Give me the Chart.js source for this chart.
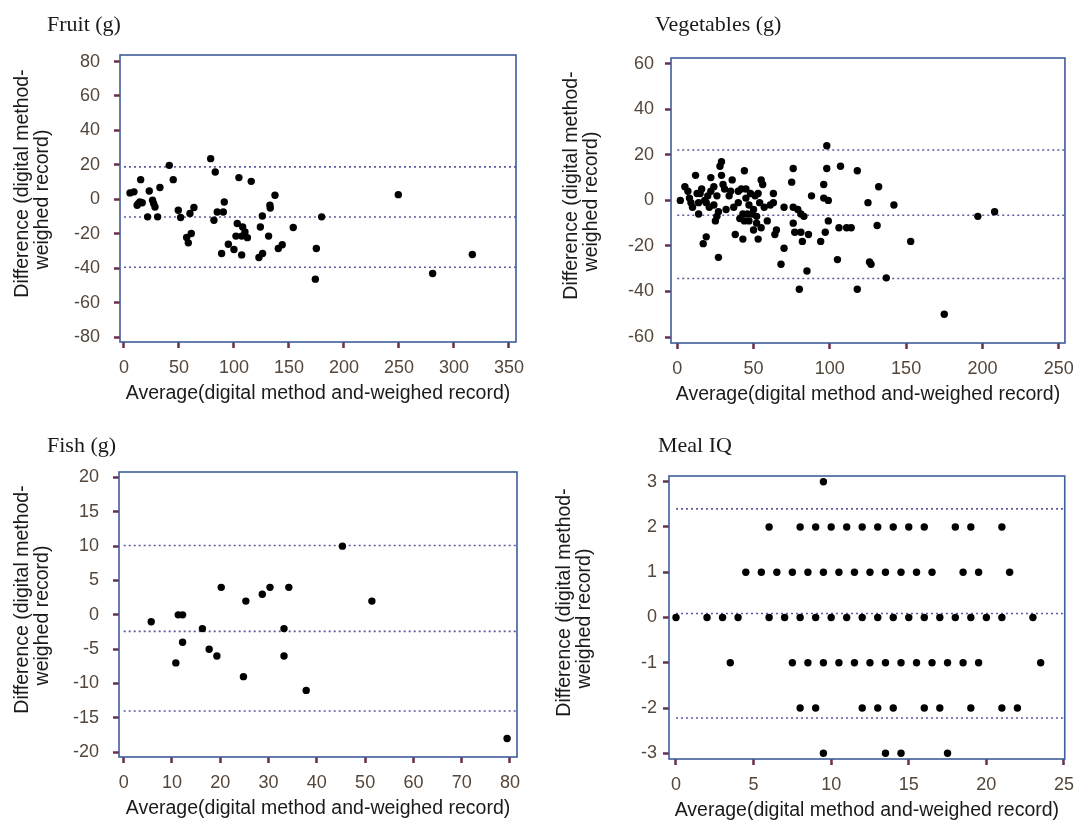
<!DOCTYPE html>
<html><head><meta charset="utf-8">
<script src="https://cdn.jsdelivr.net/npm/chart.js@4.4.1/dist/chart.umd.min.js"></script>
<style>
html,body{margin:0;padding:0;background:#fff;width:1083px;height:820px;overflow:hidden}
canvas{position:absolute;left:0;top:0}
</style></head><body>
<canvas id="c1" width="1083" height="820"></canvas>
<canvas id="c2" width="1083" height="820"></canvas>
<canvas id="c3" width="1083" height="820"></canvas>
<canvas id="c4" width="1083" height="820"></canvas>
<script>
// ---------- DATA ----------
const panelTitles = ["Fruit (g)", "Vegetables (g)", "Fish (g)", "Meal IQ"];
const xAxisTitle = "Average(digital method and-weighed record)";
const yAxisTitle = ["Difference (digital method-", "weighed record)"];

const fruitXTicks = [0, 50, 100, 150, 200, 250, 300, 350];
const fruitYTicks = [80, 60, 40, 20, 0, -20, -40, -60, -80];
const fruitLimits = [18.8, -10.3, -39.5];
const fruitAvg  = [5.5, 9.1, 15.2, 14.5, 13, 16.6, 21.5, 23, 26, 28.2, 30.6, 32.7, 41.2, 44.8, 49.4, 51.5, 57, 58.5, 61.2, 60, 63.6, 78.8, 83, 81.8, 84.8, 90.3, 91.2, 88.8, 94.9, 100, 107, 101.8, 103, 107.9, 110, 107, 112.2, 104.5, 115.7, 122.7, 126, 124, 125.8, 131.5, 132.7, 133, 137.3, 140.3, 143.9, 153.9, 174.9, 174, 179.7, 249.4, 280.6, 316.7, 12, 27];
const fruitDiff = [3.7, 4.3, 11.4, -1.6, -2.5, -2, -10.2, 4.8, -0.6, -4.5, -10.2, 6.8, 19.7, 11.4, -6.4, -10.6, -22.2, -25.3, -19.9, -8.3, -4.8, 23.6, 15.8, -12.2, -7.4, -7.4, -1.6, -31.5, -26.1, -29.2, -32.3, -21.4, -14.1, -16.1, -19, -21.4, -22.3, 12.6, 10.4, -33.8, -31.5, -16.1, -9.7, -21.4, -3.5, -5.1, 2.3, -28.6, -26.4, -16.4, -28.6, -46.4, -10.2, 2.7, -43.1, -32.1, -3.5, -2.5];

const vegXTicks = [0, 50, 100, 150, 200, 250];
const vegYTicks = [60, 40, 20, 0, -20, -40, -60];
const vegLimits = [22.1, -6.5, -34.3];
const vegAvg  = [2, 5, 7, 8, 9, 10, 12, 13, 14, 14, 16, 17, 19, 19, 20, 21, 22, 24, 25, 26, 27, 27, 28, 29, 29, 30, 31, 34, 36, 38, 40, 43, 44, 42, 45, 43, 44, 45, 47, 49, 51, 50, 52, 53, 54, 53, 55, 56, 55, 59, 61, 63, 63, 64, 65, 68, 70, 70, 75, 76, 76, 76, 77, 79, 80, 81, 81, 82, 83, 85, 86, 88, 94, 96, 97, 98, 98, 96, 99, 99, 105, 106, 107, 111, 114, 118, 118, 125, 126, 127, 131, 132, 137, 142, 153, 175, 197, 208, 15, 18, 22, 24, 26, 32, 35, 37, 40, 41, 46, 47, 48, 50, 52, 57];
const vegDiff = [0, 6, 4, 1, -1, -3, 11, 3, -1, -6, 5, -19, -16, -1, 2, -3, 10, 6, -9, -7, -5, -25, 15, 17, 11, 7, 5, 2, 9, -15, -1, -17, 13, 5, 5, -6, -9, 1, -2, -6, 2, -13, -7, 3, -1, -17, 9, 7, -12, -9, -2, -1, 3, -15, -13, -28, -3, -21, 8, 14, -3, -10, -14, -4, -39, -6, -14, -18, -7, -31, -15, 2, -18, 7, -14, 24, 14, 1, 0, -9, -26, -12, 15, -12, -12, -39, 13, -1, -27, -28, -11, 6, -34, -2, -18, -50, -7, -5, 3, 0, 4, -2, 2, -4, 4, -3, 4, -8, -6, -9, 3, -4, -10, -3];

const fishXTicks = [0, 10, 20, 30, 40, 50, 60, 70, 80];
const fishYTicks = [20, 15, 10, 5, 0, -5, -10, -15, -20];
const fishLimits = [10.1, -2.4, -14.0];
const fishAvg  = [5.7, 10.8, 11.3, 12.2, 12.2, 16.3, 17.7, 19.3, 20.2, 24.8, 25.3, 28.7, 30.3, 33.2, 33.2, 34.2, 37.8, 45.3, 51.4, 79.4];
const fishDiff = [-1, -7, 0, 0, -4, -2, -5, -6, 4, -9, 2, 3, 4, -2, -6, 4, -11, 10, 2, -18];

const mealXTicks = [0, 5, 10, 15, 20, 25];
const mealYTicks = [3, 2, 1, 0, -1, -2, -3];
const mealLimits = [2.40, 0.09, -2.22];
const mealAvg  = [9.5,
  6, 8, 9, 10, 11, 12, 13, 14, 15, 16, 18, 19, 21,
  4.5, 5.5, 6.5, 7.5, 8.5, 9.5, 10.5, 11.5, 12.5, 13.5, 14.5, 15.5, 16.5, 18.5, 19.5, 21.5,
  0, 2, 3, 4, 6, 7, 8, 9, 10, 11, 12, 13, 14, 15, 16, 17, 18, 19, 20, 21, 23,
  3.5, 7.5, 8.5, 9.5, 10.5, 11.5, 12.5, 13.5, 14.5, 15.5, 16.5, 17.5, 18.5, 19.5, 23.5,
  8, 9, 12, 13, 14, 16, 17, 19, 21, 22,
  9.5, 13.5, 14.5, 17.5];
const mealDiff = [3,
  2, 2, 2, 2, 2, 2, 2, 2, 2, 2, 2, 2, 2,
  1, 1, 1, 1, 1, 1, 1, 1, 1, 1, 1, 1, 1, 1, 1, 1,
  0, 0, 0, 0, 0, 0, 0, 0, 0, 0, 0, 0, 0, 0, 0, 0, 0, 0, 0, 0, 0,
  -1, -1, -1, -1, -1, -1, -1, -1, -1, -1, -1, -1, -1, -1, -1,
  -2, -2, -2, -2, -2, -2, -2, -2, -2, -2,
  -3, -3, -3, -3];

// ---------- LAYOUT / STYLE ----------
const W = 1083, H = 820, YW = 60, XH = 40;
const TICK_COLOR = '#6b2d4e', LABEL_COLOR = '#54463a', FRAME_COLOR = '#3f5c9c', REF_COLOR = '#5a5a9e';
const SANS = '"Liberation Sans", Arial, sans-serif';
const SERIF = '"Liberation Serif", "Times New Roman", serif';

function makePanel(id, p) {
  const framePlugin = {
    id: 'frame' + id,
    afterDraw(chart) {
      const ctx = chart.ctx, a = chart.chartArea;
      ctx.save();
      ctx.strokeStyle = FRAME_COLOR; ctx.lineWidth = 1.6;
      ctx.strokeRect(a.left, a.top, a.right - a.left, a.bottom - a.top);
      ctx.fillStyle = '#1a1a1a';
      ctx.font = '22px ' + SERIF;
      ctx.textAlign = 'left'; ctx.textBaseline = 'alphabetic';
      ctx.fillText(p.title, p.titleX, p.titleY);
      ctx.font = '19.5px ' + SANS;
      ctx.textAlign = 'center'; ctx.textBaseline = 'middle';
      ctx.fillText(xAxisTitle, (a.left + a.right) / 2, a.bottom + 52);
      const cy = (a.top + a.bottom) / 2;
      ctx.translate(p.yTitleX, cy + p.yTitleDy);
      ctx.rotate(-Math.PI / 2);
      ctx.fillText(yAxisTitle[0], 0, 0);
      ctx.fillText(yAxisTitle[1], p.yTitleDy2, 20);
      ctx.restore();
    }
  };
  const refSets = p.limits.map(v => ({
    type: 'line', data: [{x: 0, y: v}, {x: p.xMax, y: v}],
    borderColor: REF_COLOR, borderWidth: 1.6, borderDash: [2, 3],
    pointRadius: 0, fill: false, order: 2
  }));
  new Chart(document.getElementById(id), {
    type: 'scatter',
    data: { datasets: [...refSets, {
      data: p.xs.map((x, i) => ({x: x, y: p.ys[i]})),
      backgroundColor: '#000', borderColor: '#000', borderWidth: 0,
      pointRadius: 3.7, order: 1
    }]},
    options: {
      responsive: false, animation: false, events: [],
      layout: { autoPadding: false, padding: { left: p.box.l - YW, top: p.box.t, right: W - p.box.r, bottom: H - p.box.b - XH } },
      plugins: { legend: { display: false }, tooltip: { enabled: false } },
      scales: {
        x: {
          type: 'linear', min: p.xMin, max: p.xMax,
          afterBuildTicks: a => { a.ticks = p.xTicks.map(v => ({value: v})); },
          afterFit: s => { s.height = XH; },
          grid: { drawOnChartArea: false, tickLength: 6, tickColor: TICK_COLOR, tickWidth: 2.5 },
          border: { display: false },
          ticks: { autoSkip: false, maxRotation: 0, padding: 9, color: LABEL_COLOR, font: { family: SANS, size: 18 } }
        },
        y: {
          type: 'linear', min: p.yMin, max: p.yMax,
          afterBuildTicks: a => { a.ticks = p.yTicks.map(v => ({value: v})); },
          afterFit: s => { s.width = YW; },
          grid: { drawOnChartArea: false, tickLength: 6, tickColor: TICK_COLOR, tickWidth: 2.5 },
          border: { display: false },
          ticks: { autoSkip: false, padding: p.yPad, color: LABEL_COLOR, font: { family: SANS, size: 18 } }
        }
      }
    },
    plugins: [framePlugin]
  });
}

makePanel('c1', { title: panelTitles[0], titleX: 47, titleY: 31,
  box: {l: 120, t: 55, r: 516, b: 342}, xMin: -3.6, xMax: 356.4, yMin: -82.9, yMax: 83.8,
  xTicks: fruitXTicks, yTicks: fruitYTicks, limits: fruitLimits, xs: fruitAvg, ys: fruitDiff,
  yPad: 14, yTitleX: 23, yTitleDy: -15, yTitleDy2: -16 });
makePanel('c2', { title: panelTitles[1], titleX: 655, titleY: 31,
  box: {l: 671, t: 58, r: 1065, b: 343}, xMin: -4.1, xMax: 254.1, yMin: -62.6, yMax: 62.5,
  xTicks: vegXTicks, yTicks: vegYTicks, limits: vegLimits, xs: vegAvg, ys: vegDiff,
  yPad: 11, yTitleX: 572, yTitleDy: -15, yTitleDy2: -16 });
makePanel('c3', { title: panelTitles[2], titleX: 47, titleY: 452,
  box: {l: 119, t: 472, r: 517, b: 757}, xMin: -0.97, xMax: 81.45, yMin: -20.7, yMax: 20.8,
  xTicks: fishXTicks, yTicks: fishYTicks, limits: fishLimits, xs: fishAvg, ys: fishDiff,
  yPad: 14, yTitleX: 23, yTitleDy: -15, yTitleDy2: -16 });
makePanel('c4', { title: panelTitles[3], titleX: 658, titleY: 452,
  box: {l: 669, t: 476, r: 1066, b: 759}, xMin: -0.45, xMax: 25.05, yMin: -3.126, yMax: 3.126,
  xTicks: mealXTicks, yTicks: mealYTicks, limits: mealLimits, xs: mealAvg, ys: mealDiff,
  yPad: 6, yTitleX: 565, yTitleDy: -15, yTitleDy2: -16 });
</script>
</body></html>
